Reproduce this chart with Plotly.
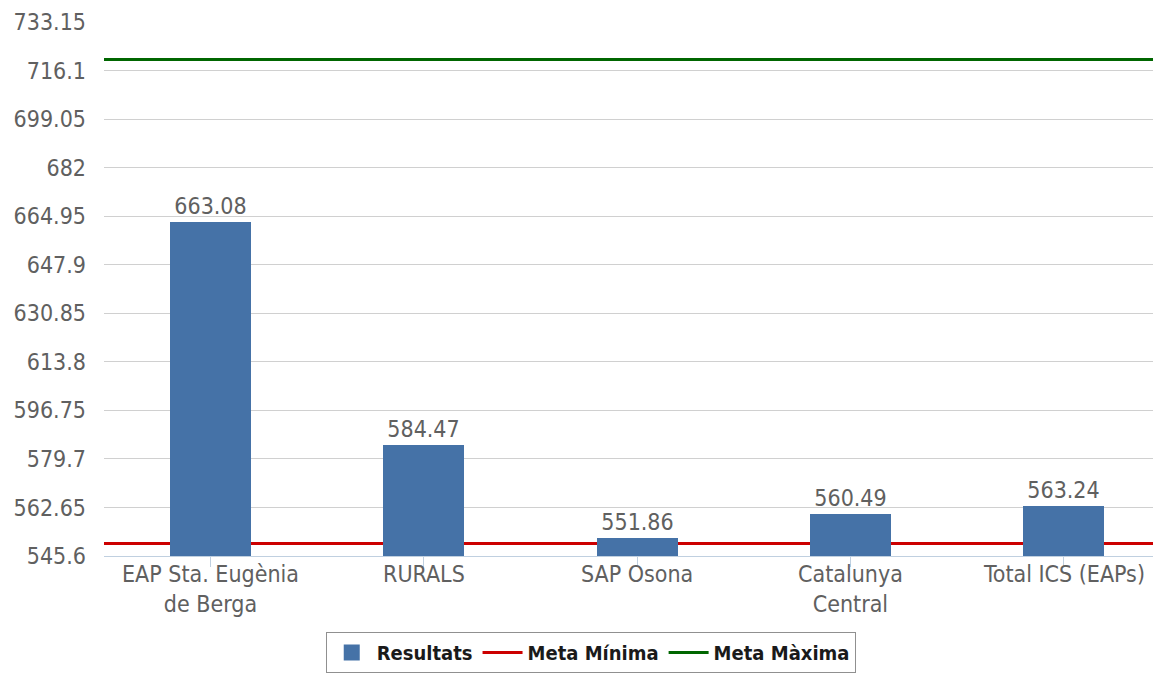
import plotly.graph_objects as go

categories = ["EAP Sta. Eugènia<br>de Berga", "RURALS", "SAP Osona", "Catalunya<br>Central", "Total ICS (EAPs)"]
resultats = [663.08, 584.47, 551.86, 560.49, 563.24]
meta_minima = 550.0
meta_maxima = 720.0
y_ticks = [545.6, 562.65, 579.7, 596.75, 613.8, 630.85, 647.9, 664.95, 682, 699.05, 716.1, 733.15]
y_tick_labels = ["545.6", "562.65", "579.7", "596.75", "613.8", "630.85", "647.9", "664.95", "682", "699.05", "716.1", "733.15"]

BAR = "#4572A7"
RED = "#CC0000"
GREEN = "#006600"
GRAY = "#606060"
FONT = "DejaVu Sans Condensed"

x_idx = list(range(len(categories)))

fig = go.Figure()
fig.add_trace(go.Bar(
    x=x_idx, y=resultats, name="Resultats", showlegend=False,
    marker=dict(color=BAR, line=dict(width=0)), width=0.38,
    text=[f"{v:.2f}" for v in resultats], textposition="outside",
    textfont=dict(color=GRAY, size=23, family=FONT),
    cliponaxis=False,
))
fig.add_trace(go.Scatter(x=[None], y=[None], mode="markers", name="Resultats",
                         marker=dict(color=BAR, symbol="square", size=16)))
fig.add_trace(go.Scatter(x=[None], y=[None], mode="lines", name="Meta Mínima",
                         line=dict(color=RED, width=3)))
fig.add_trace(go.Scatter(x=[None], y=[None], mode="lines", name="Meta Màxima",
                         line=dict(color=GREEN, width=3)))

for val, col in [(meta_minima, RED), (meta_maxima, GREEN)]:
    fig.add_shape(type="line", xref="paper", x0=0, x1=1, yref="y", y0=val, y1=val,
                  line=dict(color=col, width=3), layer="between")

for i, cat in zip(x_idx, categories):
    fig.add_annotation(x=i, xref="x", y=0, yref="paper", yanchor="top", yshift=-3,
                       text=cat, showarrow=False,
                       font=dict(size=23, color=GRAY, family=FONT))

fig.update_layout(
    width=1145, height=674,
    margin=dict(l=96, r=0, t=14, b=126),
    plot_bgcolor="white", paper_bgcolor="white",
    font=dict(family=FONT, size=23, color=GRAY),
    bargap=0,
    showlegend=True,
    legend=dict(orientation="h", x=0.464, xanchor="center", y=-0.1423, yanchor="top",
                bordercolor="#909090", borderwidth=1,
                font=dict(family="DejaVu Sans Condensed", size=20, color="#1a1a1a", weight="bold"),
                itemwidth=40, traceorder="normal"),
    xaxis=dict(
        range=[-0.5, 4.418], tickmode="array", tickvals=x_idx,
        ticktext=categories, showticklabels=False, tickson="boundaries", ticks="outside", ticklen=10,
        tickcolor="#C0D0E0", showline=True, linecolor="#C0D0E0", linewidth=1,
        showgrid=False, zeroline=False,
    ),
    yaxis=dict(
        range=[545.6, 733.15], tickmode="array", tickvals=y_ticks, ticktext=y_tick_labels,
        showgrid=True, gridcolor="#D0D0D0", gridwidth=1, zeroline=False,
        ticks="", tickfont=dict(size=23, color=GRAY, family=FONT), ticklabelstandoff=17,
    ),
)

fig.write_html("out.html")
